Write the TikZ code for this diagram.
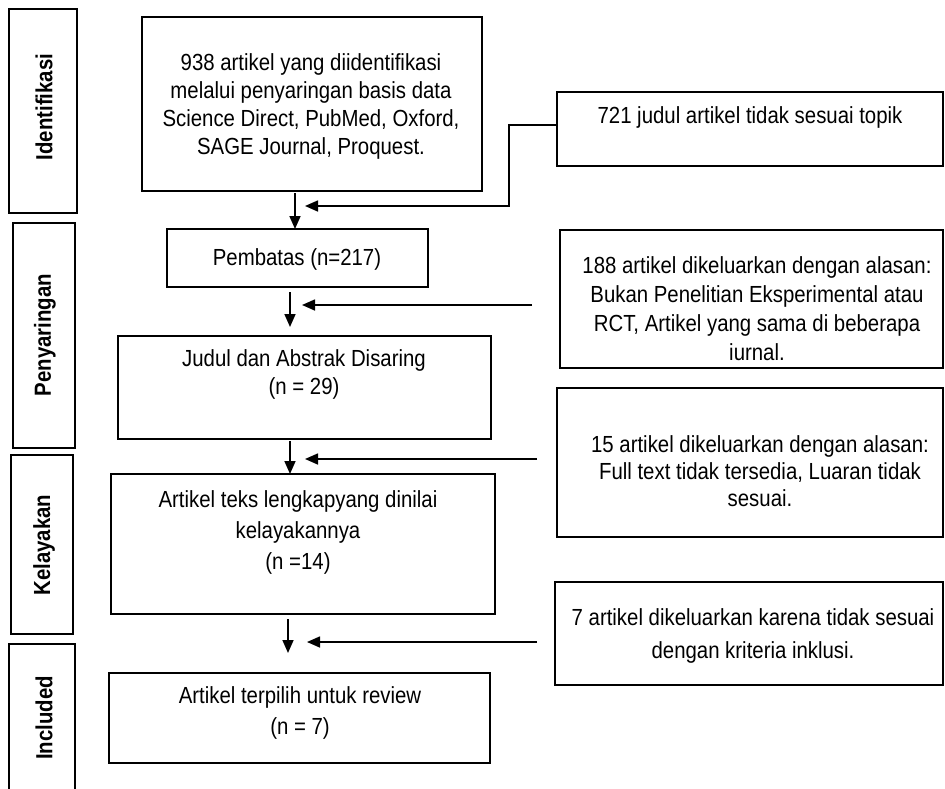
\documentclass[tikz,border=0pt]{standalone}
\usepackage{fontspec}
\setmainfont{Liberation Sans}[FakeStretch=0.875]
\usetikzlibrary{arrows.meta}
\begin{document}
\begin{tikzpicture}[x=1pt,y=-1pt,
  box/.style={draw, line width=1.7pt, inner sep=0pt, outer sep=0pt},
  txt/.style={align=center, inner sep=0pt, text=black, font=\fontsize{23.3}{#1}\selectfont},
  txt/.default=28,
  lab/.style={rotate=90, inner sep=0pt, font=\bfseries\fontsize{23.3}{28}\selectfont},
  arr/.style={line width=1.6pt, -{Triangle[length=13pt,width=11pt]}}]
\useasboundingbox (0,0) rectangle (945,788);
\clip (0,0) rectangle (945,788);

% stage label boxes
\node[box, minimum width=68, minimum height=204] (L1) at (43,111) {};
\node[box, minimum width=62, minimum height=225] (L2) at (44,335.5) {};
\node[box, minimum width=62, minimum height=179] (L3) at (42,544.5) {};
\node[box, minimum width=66, minimum height=176] (L4) at (42,732) {};
\node[lab] (L1t) at (44,107) {Identifikasi};
\node[lab] (L2t) at (45,335) {Penyaringan};
\node[lab] (L3t) at (44,545) {Kelayakan};
\node[lab] (L4t) at (44,718) {Included};

% main boxes
\node[box, minimum width=340, minimum height=174] (b1) at (312,104) {};
\node[box, minimum width=261, minimum height=58] (b2) at (297.5,258) {};
\node[box, minimum width=373, minimum height=103] (b3) at (304.5,387.5) {};
\node[box, minimum width=384, minimum height=140] (b4) at (303,544) {};
\node[box, minimum width=381, minimum height=90] (b5) at (299.5,718) {};

% right boxes
\node[box, minimum width=386, minimum height=74] (r1) at (750,129) {};
\node[box, minimum width=383, minimum height=138] (r2) at (751.5,299) {};
\node[box, minimum width=386, minimum height=149] (r3) at (750,462.5) {};
\node[box, minimum width=388, minimum height=103] (r4) at (749,633.5) {};

% texts
\node[txt] (t1) at (311,106) {938 artikel yang diidentifikasi\\melalui penyaringan basis data\\Science Direct, PubMed, Oxford,\\SAGE Journal, Proquest.};
\node[txt] (t2) at (297,259) {Pembatas (n=217)};
\node[txt] (t3) at (304,374) {Judul dan Abstrak Disaring\\(n = 29)};
\node[txt=31] (t4) at (298,532) {Artikel teks lengkapyang dinilai\\kelayakannya\\(n =14)};
\node[txt=31] (t5) at (300,713) {Artikel terpilih untuk review\\(n = 7)};
\node[txt] (rt1) at (750,117) {721 judul artikel tidak sesuai topik};
\node[txt=29] (rt2) at (757,309) {188 artikel dikeluarkan dengan alasan:\\Bukan Penelitian Eksperimental atau\\RCT, Artikel yang sama di beberapa\\iurnal.};
\node[txt=27] (rt3) at (760,471) {15 artikel dikeluarkan dengan alasan:\\Full text tidak tersedia, Luaran tidak\\sesuai.};
\node[txt=33] (rt4) at (753,636) {7 artikel dikeluarkan karena tidak sesuai\\dengan kriteria inklusi.};

% connector points
\coordinate (a1s) at (295,193);
\coordinate (e1) at (509,125);
\coordinate (h1e) at (305,206);
\coordinate (a2s) at (290,292);
\coordinate (a2e) at (290,327);
\coordinate (h2s) at (532,305);
\coordinate (h2e) at (302,305);
\coordinate (a3s) at (290,441);
\coordinate (h3s) at (537,459);
\coordinate (h3e) at (305,459);
\coordinate (a4s) at (288,619);
\coordinate (a4e) at (288,653);
\coordinate (h4s) at (537,642);
\coordinate (h4e) at (307,642);

% connectors
\draw[arr] (a1s) -- (a1s |- b2.north);
\draw[arr] (r1.west |- e1) -- (e1) |- (h1e);
\draw[arr] (a2s) -- (a2e);
\draw[arr] (h2s) -- (h2e);
\draw[arr] (a3s) -- (a3s |- b4.north);
\draw[arr] (h3s) -- (h3e);
\draw[arr] (a4s) -- (a4e);
\draw[arr] (h4s) -- (h4e);
\end{tikzpicture}
\end{document}
